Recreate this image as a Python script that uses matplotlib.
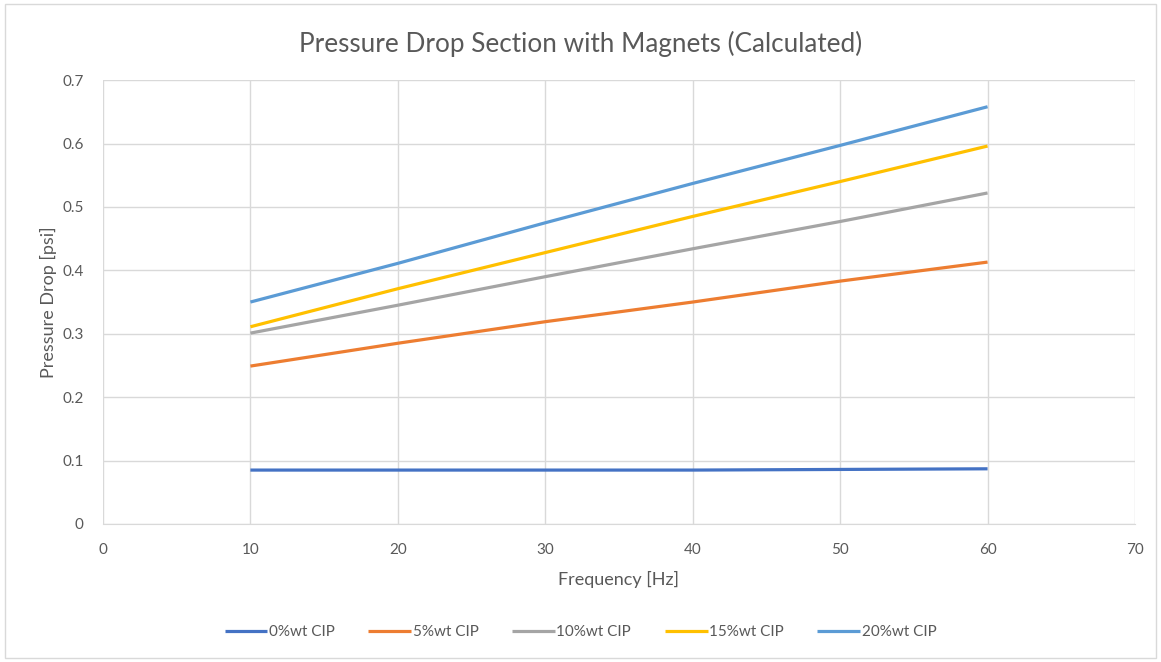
import matplotlib
matplotlib.use("Agg")
import matplotlib.pyplot as plt
from matplotlib.patches import Rectangle

plt.rcParams['font.family'] = ['Lato', 'DejaVu Sans']

freq = [10, 20, 30, 40, 50, 60]
series_names = ["0%wt CIP", "5%wt CIP", "10%wt CIP", "15%wt CIP", "20%wt CIP"]
cip0 = [0.085, 0.085, 0.085, 0.085, 0.086, 0.087]
cip5 = [0.249, 0.285, 0.319, 0.350, 0.383, 0.413]
cip10 = [0.301, 0.345, 0.390, 0.434, 0.477, 0.522]
cip15 = [0.311, 0.371, 0.428, 0.485, 0.540, 0.596]
cip20 = [0.350, 0.411, 0.475, 0.537, 0.597, 0.658]
colors = ["#4472C4", "#ED7D31", "#A5A5A5", "#FFC000", "#5B9BD5"]

fig = plt.figure(figsize=(11.61, 6.62), dpi=100)
ax = fig.add_axes([0.0887, 0.2085, 0.9776 - 0.0887, 0.879 - 0.2085])

for name, vals, c in zip(series_names, [cip0, cip5, cip10, cip15, cip20], colors):
    ax.plot(freq, vals, color=c, lw=2.3, label=name, solid_capstyle='butt')

ax.set_xlim(0, 70)
ax.set_ylim(0, 0.7)
ax.set_xticks(range(0, 71, 10))
ax.set_yticks([0, 0.1, 0.2, 0.3, 0.4, 0.5, 0.6, 0.7])
ax.set_yticklabels(["0", "0.1", "0.2", "0.3", "0.4", "0.5", "0.6", "0.7"])
ax.grid(True, color="#D9D9D9", lw=1)
ax.set_axisbelow(True)
for s in ax.spines.values():
    s.set_visible(False)
ax.spines['bottom'].set_visible(True)
ax.spines['bottom'].set_color("#D9D9D9")
ax.tick_params(length=0, colors="#595959", labelsize=11)
ax.tick_params(axis='x', pad=14)
ax.tick_params(axis='y', pad=14)

ax.set_xlabel("Frequency [Hz]", color="#595959", fontsize=13, labelpad=10)
ax.set_ylabel("Pressure Drop [psi]", color="#595959", fontsize=13, labelpad=4)
fig.suptitle("Pressure Drop Section with Magnets (Calculated)", color="#595959",
             fontsize=18.8, y=0.953)

leg = fig.legend(loc='center', bbox_to_anchor=(0.5, 1 - 632 / 662), ncol=5,
                 frameon=False, fontsize=11, handlelength=2.8, handletextpad=0.1,
                 columnspacing=2.2)
for t in leg.get_texts():
    t.set_color("#595959")

fig.patches.append(Rectangle((0.004, 0.006), 0.992, 0.988, transform=fig.transFigure,
                             fill=False, edgecolor="#D9D9D9", lw=1))

fig.savefig("out.png", dpi=100)
